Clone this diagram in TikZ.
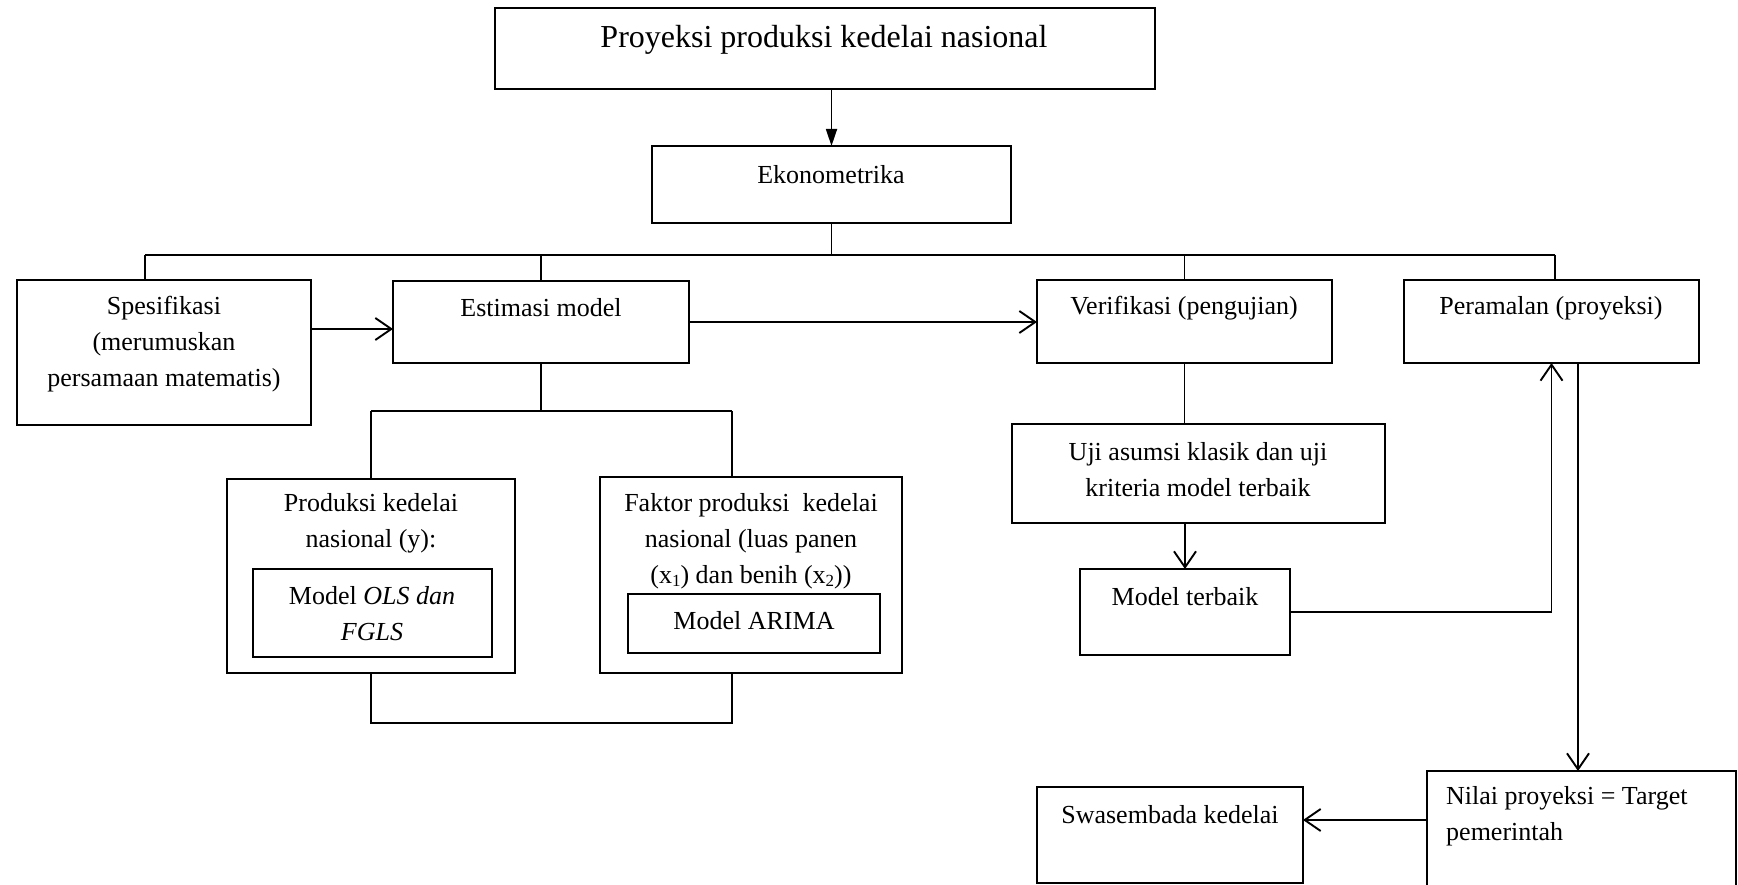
\documentclass[tikz,border=0pt]{standalone}
\usepackage{fontspec}
\setmainfont{Liberation Serif}
\usetikzlibrary{arrows.meta}
\newcommand{\lowsub}[1]{\raisebox{-0.28ex}{\fontsize{17}{17}\selectfont #1}}
\begin{document}
\begin{tikzpicture}[x=1pt,y=-1pt,
  box/.style={draw, line width=1.3pt, inner sep=0pt, outer sep=0pt},
  txt/.style={font=\fontsize{26}{36}\selectfont, align=center, inner sep=0pt},
  thin/.style={line width=1.3pt},
  thick/.style={line width=1.9pt},
  arr/.style={thick, -{Straight Barb[length=16pt,width=22pt,line width=1.9pt]}},
  arrtri/.style={line width=1.8pt, -{Triangle[length=17pt,width=11pt]}}]
\useasboundingbox (0,0) rectangle (1738,885);

% boxes
\node[box, minimum width=660pt, minimum height=81pt] (title) at (825,48.5) {};
\node[box, minimum width=359pt, minimum height=77pt] (eko) at (831.5,184.5) {};
\node[box, minimum width=294pt, minimum height=145pt] (spes) at (164,352.5) {};
\node[box, minimum width=296pt, minimum height=82pt] (est) at (541,322) {};
\node[box, minimum width=295pt, minimum height=83pt] (ver) at (1184.5,321.5) {};
\node[box, minimum width=295pt, minimum height=83pt] (per) at (1551.5,321.5) {};
\node[box, minimum width=288pt, minimum height=194pt] (prod) at (371,576) {};
\node[box, minimum width=239pt, minimum height=88pt] (ols) at (372.5,613) {};
\node[box, minimum width=302pt, minimum height=196pt] (fak) at (751,575) {};
\node[box, minimum width=252pt, minimum height=59pt] (arima) at (754,623.5) {};
\node[box, minimum width=373pt, minimum height=99pt] (uji) at (1198.5,473.5) {};
\node[box, minimum width=210pt, minimum height=86pt] (mt) at (1185,612) {};
\node[box, minimum width=309pt, minimum height=129pt] (nilai) at (1581.5,835.5) {};
\node[box, minimum width=266pt, minimum height=96pt] (swa) at (1170,835) {};

% texts
\node[txt, font=\fontsize{32}{38}\selectfont] (ttitle) at (824,40) {Proyeksi produksi kedelai nasional};
\node[txt] (teko) at (831,175) {Ekonometrika};
\node[txt] (tspes) at (164,344) {Spesifikasi\\(merumuskan\\persamaan matematis)};
\node[txt] (test) at (541,308) {Estimasi model};
\node[txt] (tver) at (1184,308) {Verifikasi (pengujian)};
\node[txt] (tper) at (1551,308) {Peramalan (proyeksi)};
\node[txt] (tprod) at (371,523) {Produksi kedelai\\nasional (y):};
\node[txt] (tols) at (372,614) {Model \textit{OLS dan}\\\textit{FGLS}};
\node[txt] (tfak) at (751,541) {Faktor produksi\ \ kedelai\\nasional (luas panen\\(x\lowsub{1}) dan benih (x\lowsub{2}))};
\node[txt] (tarima) at (754,621) {Model ARIMA};
\node[txt] (tuji) at (1198,470) {Uji asumsi klasik dan uji\\kriteria model terbaik};
\node[txt] (tmt) at (1185,597) {Model terbaik};
\node[txt, align=left, anchor=west] (tnilai) at (1446,816) {Nilai proyeksi = Target\\pemerintah};
\node[txt] (tswa) at (1170,815) {Swasembada kedelai};

% helper coordinates
\coordinate (bL) at (145,255);
\coordinate (bR) at (1555,255);
\coordinate (eL) at (371,411);
\coordinate (eR) at (732,411);
\coordinate (pB) at (371,723);
\coordinate (fB) at (732,723);
\coordinate (dn) at (1578,0);

% connectors
\draw[arrtri] (eko.north |- title.south) -- (eko.north);
\draw[thin] (eko.south) -- (eko.south |- bL);
\draw[thick] (bL) -- (bR);
\draw[thin] (bL) -- (bL |- spes.north);
\draw[thin] (est.north |- bL) -- (est.north);
\draw[thin] (ver.north |- bL) -- (ver.north);
\draw[thin] (bR) -- (bR |- per.north);

\draw[arr] (spes.east |- 0,329) -- (est.west |- 0,329);
\draw[arr] (est.east) -- (ver.west |- est.east);

\draw[thick] (est.south) -- (est.south |- eL);
\draw[thick] (eL) -- (eR);
\draw[thin] (eL) -- (prod.north);
\draw[thin] (eR) -- (eR |- fak.north);
\draw[thick] (prod.south) -- (pB) -- (fB) -- (fB |- fak.south);

\draw[thin] (ver.south) -- (ver.south |- uji.north);
\draw[arr] (mt.north |- uji.south) -- (mt.north);
\draw[arr] (mt.east) -- (mt.east -| per.south) -- (per.south);
\draw[arr] (per.south -| dn) -- (nilai.north -| dn);
\draw[arr] (nilai.west |- 0,820) -- (swa.east |- 0,820);
\end{tikzpicture}
\end{document}
